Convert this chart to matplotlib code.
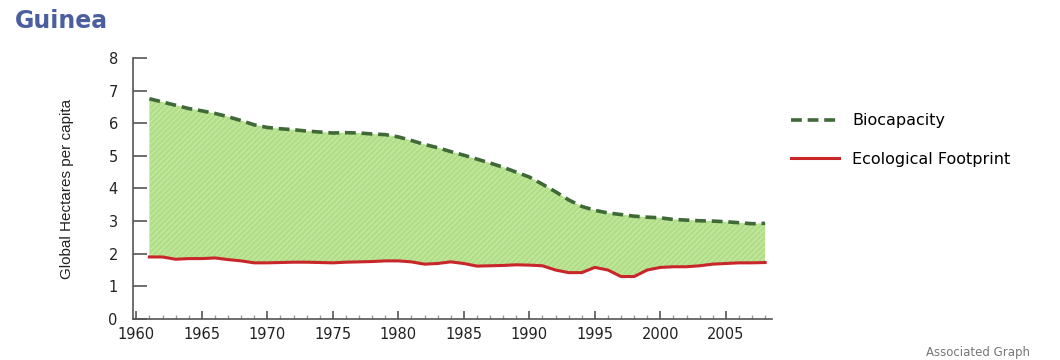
import matplotlib.pyplot as plt
from matplotlib.lines import Line2D

years = list(range(1961, 2009))

biocapacity = [6.75, 6.65, 6.55, 6.45, 6.38, 6.30, 6.20, 6.08, 5.95, 5.87,
               5.83, 5.80, 5.76, 5.73, 5.70, 5.71, 5.70, 5.67, 5.65, 5.58,
               5.47, 5.35, 5.25, 5.13, 5.02, 4.90, 4.78, 4.65, 4.50, 4.35,
               4.13, 3.90, 3.65, 3.45, 3.33, 3.25, 3.20, 3.15, 3.12, 3.10,
               3.05, 3.03, 3.01, 3.00, 2.98, 2.95, 2.92, 2.93]

footprint = [1.90, 1.90, 1.83, 1.85, 1.85, 1.87, 1.82, 1.78, 1.72, 1.72,
             1.73, 1.74, 1.74, 1.73, 1.72, 1.74, 1.75, 1.76, 1.78, 1.78,
             1.75, 1.68, 1.70, 1.75, 1.70, 1.62, 1.63, 1.64, 1.66, 1.65,
             1.63, 1.50, 1.42, 1.42, 1.58, 1.50, 1.30, 1.30, 1.50, 1.58,
             1.60, 1.60, 1.63, 1.68, 1.70, 1.72, 1.72, 1.73]

plt.rcParams['hatch.linewidth'] = 0.6

fig = plt.figure(figsize=(10.6, 3.6), dpi=100)
ax = fig.add_axes([0.1255, 0.114, 0.6025, 0.725])

# green area between the two lines
ax.fill_between(years, footprint, biocapacity, facecolor='#b2de88',
                edgecolor='#cdeeb0', hatch='//////', linewidth=0)

ax.plot(years, biocapacity, color='#3f6a38', lw=2.6, ls=(0, (3, 1.6)))
ax.plot(years, footprint, color='#c8262a', lw=2.2)

ax.set_xlim(1959.75, 2008.5)
ax.set_ylim(0, 8)
ax.set_xticks(range(1960, 2008, 5))
ax.set_xticks(range(1960, 2009), minor=True)
ax.set_yticks(range(0, 9))

for s in ['top', 'right']:
    ax.spines[s].set_visible(False)
for s in ['left', 'bottom']:
    ax.spines[s].set_color('#555555')
    ax.spines[s].set_linewidth(1.2)

ax.tick_params(axis='y', direction='in', length=10, width=1.2, color='#555555',
               labelsize=10.5, labelcolor='#222222', pad=11)
ax.tick_params(axis='x', which='major', direction='in', length=6, width=1.2,
               color='#555555', labelsize=10.5, labelcolor='#222222', pad=6)
ax.tick_params(axis='x', which='minor', direction='in', length=3, width=1,
               color='#999999')

ax.set_ylabel('Global Hectares per capita', fontsize=11,
              family=['Liberation Sans Narrow', 'Liberation Sans'],
              color='#222222', labelpad=25)

fig.text(0.014, 0.942, 'Guinea', fontsize=17, color='#4a5ea0', fontweight='bold',
         va='center', ha='left')
fig.text(0.972, 0.02, 'Associated Graph', fontsize=8.5, color='#777777',
         ha='right', va='center')

handles = [Line2D([], [], color='#3f6a38', lw=2.6, ls=(0, (3, 1.6))),
           Line2D([], [], color='#c8262a', lw=2.2)]
fig.legend(handles, ['Biocapacity', 'Ecological Footprint'], loc='upper left',
           bbox_to_anchor=(0.733, 0.725), frameon=False, fontsize=11.5,
           handlelength=3.0, labelspacing=1.45, handletextpad=0.8)

fig.savefig('out.png', dpi=100)
